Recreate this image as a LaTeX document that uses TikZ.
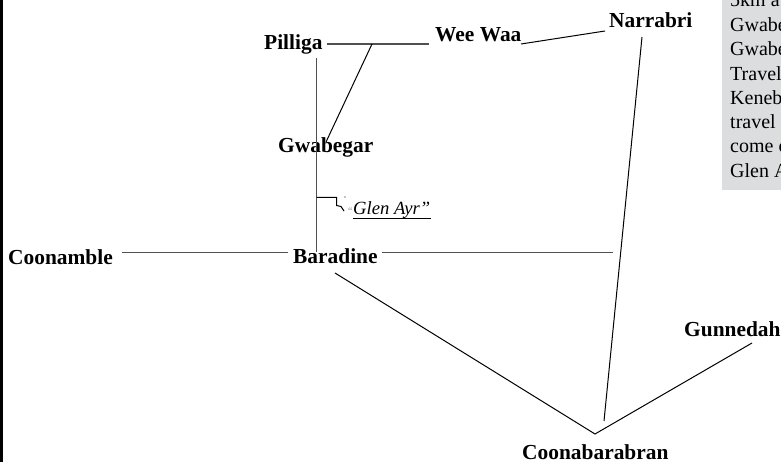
\documentclass[tikz,border=0pt]{standalone}
\usepackage{fontspec}
\setmainfont{Liberation Serif}
\definecolor{boxgrey}{RGB}{220,221,223}
\definecolor{lineg}{RGB}{80,80,80}
\tikzset{
  place/.style={inner sep=0pt,anchor=base west,font=\fontsize{21.4}{24}\selectfont\bfseries},
  boxline/.style={inner sep=0pt,anchor=base west,font=\fontsize{20}{24}\selectfont},
  thick line/.style={draw=lineg,line width=1.8pt},
  thin line/.style={draw=black,line width=1pt}
}
\begin{document}
\begin{tikzpicture}[x=1pt,y=-1pt]
\useasboundingbox (0,0) rectangle (781,462);
\clip (0,0) rectangle (781,462);
\fill[black] (0,0) rectangle (3,462);
\fill[boxgrey] (722,0) rectangle (781,190);
\node[boxline] (b1) at (730,7) {5km a};
\node[boxline] (b2) at (730,32) {Gwabe};
\node[boxline] (b3) at (730,56) {Gwabe};
\node[boxline] (b4) at (730,81) {Travel};
\node[boxline] (b5) at (730,105) {Keneb};
\node[boxline] (b6) at (730,129) {travel};
\node[boxline] (b7) at (730,153) {come c};
\node[boxline] (b8) at (730,178) {Glen A};
\node[place] (pil) at (264,50) {Pilliga};
\node[place] (wee) at (435,42) {Wee Waa};
\node[place] (nar) at (609,28) {Narrabri};
\node[place] (gwa) at (278,153) {Gwabegar};
\node[place] (coo) at (8,264) {Coonamble};
\node[place] (bar) at (293,263) {Baradine};
\node[place] (gun) at (684,336) {Gunnedah};
\node[place] (cbb) at (522,459) {Coonabarabran};
\node[inner sep=0pt,anchor=base west,font=\fontsize{18.6}{20}\selectfont\itshape] (gle) at (353,215) {Glen Ayr”};
\node[inner sep=0pt,anchor=base east,font=\fontsize{10}{10}\selectfont\itshape,text=gray] (q) at (353,215) {“};
\coordinate (a) at (327,44); \coordinate (b) at (429,44);
\coordinate (c) at (372,44); \coordinate (d) at (326,142);
\coordinate (e) at (316.5,58); \coordinate (f) at (316.5,252);
\coordinate (g) at (122,252.5); \coordinate (h) at (288,252.5);
\coordinate (i) at (382,252.5); \coordinate (j) at (613,252.5);
\coordinate (k) at (335,273); \coordinate (l) at (595,434);
\coordinate (m) at (752,343);
\coordinate (n) at (642,37); \coordinate (o) at (604,421);
\coordinate (p) at (521,44); \coordinate (r) at (605,31);
\coordinate (u1) at (353,218.5); \coordinate (u2) at (431,218.5);
\draw[thick line] (a) -- (b);
\draw[thin line] (c) -- (d);
\draw[thick line] (e) -- (f);
\draw[thick line] (g) -- (h);
\draw[thick line] (i) -- (j);
\draw[thin line] (k) -- (l) -- (m);
\draw[thin line] (n) -- (o);
\draw[thin line] (p) -- (r);
\draw[thin line] (u1) -- (u2);
\draw[thin line] (316.5,197.5) -- (336.5,197.5) -- (336.5,205.5) -- (341,206.5) -- (344,211);
\fill (345,197) circle (.6);
\end{tikzpicture}
\end{document}
